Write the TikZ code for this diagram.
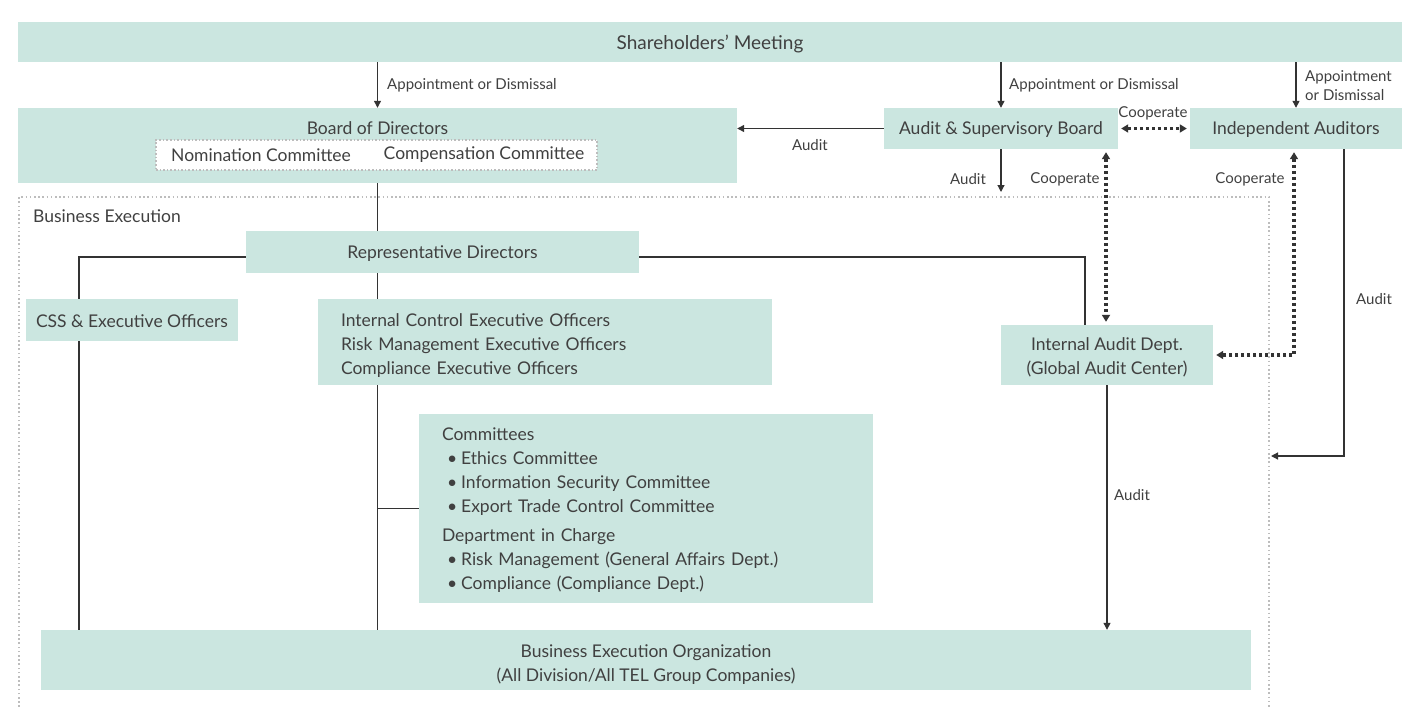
\documentclass[tikz,border=0pt]{standalone}
\usepackage{fontspec}
\setmainfont{Lato}
\usetikzlibrary{arrows.meta,calc}
\definecolor{boxfill}{HTML}{CBE6E0}
\definecolor{txt}{HTML}{404040}
\definecolor{ln}{HTML}{333333}
\definecolor{frm}{HTML}{BDBDBD}
\begin{document}
\begin{tikzpicture}[x=1pt,y=-1pt,
  box/.style={fill=boxfill,draw=none,inner sep=0pt,text=txt,font=\fontsize{17.5}{24}\selectfont,align=center,
    execute at begin node={\rule{0pt}{15pt}}},
  btxt/.style={text=txt,font=\fontsize{17.5}{24}\selectfont,inner sep=0pt},
  lbl/.style={text=txt,font=\fontsize{15}{19}\selectfont,inner sep=1pt},
  conn/.style={draw=ln,line width=1.2pt},
  arr/.style={conn,-{Triangle[length=7pt,width=7pt]}},
  dotarr/.style={draw=ln,line width=3.2pt,dash pattern=on 3pt off 3pt,{Triangle[length=7pt,width=8pt]}-{Triangle[length=7pt,width=8pt]}},
  frame/.style={draw=frm,line width=1.6pt,dash pattern=on 1.6pt off 2.6pt}]
\useasboundingbox (0,0) rectangle (1406,707);

% business execution frame
\draw[frame] (19,707) -- (19,197) -- (1269,197) -- (1269,707);
\node[lbl,anchor=west,font=\fontsize{17.5}{19}\selectfont] (be) at (32,216) {Business Execution};

% boxes
\node[box,minimum width=1384,minimum height=40,font=\fontsize{19}{24}\selectfont,execute at begin node={\rule{0pt}{19pt}}] (sh) at (710,42) {Shareholders’ Meeting};
\node[box,minimum width=719,minimum height=75,execute at begin node={}] (bod) at (377.5,145.5) {};
\node[btxt] (bodt) at (377.5,128) {Board of Directors};
\node[fill=white,draw=frm,line width=1.6pt,dash pattern=on 1.6pt off 2pt,minimum width=441,minimum height=30,inner sep=0pt] (nc) at (376.5,155) {};
\node[btxt] (nom) at (261,155) {Nomination Committee};
\node[btxt] (comp) at (484,155) {Compensation Committee};

\node[box,minimum width=234,minimum height=41] (asb) at (1001,128.5) {Audit \& Supervisory Board};
\node[box,minimum width=212,minimum height=41] (ia) at (1296,128.5) {Independent Auditors};

\node[box,minimum width=393,minimum height=42] (rep) at (442.5,252) {Representative Directors};
\node[box,minimum width=212,minimum height=42] (css) at (132,320) {CSS \& Executive Officers};
\node[box,minimum width=454,minimum height=86,text width=408,align=left,execute at begin node={\rule{0pt}{19pt}}] (icx) at (545,342)
  {Internal Control Executive Officers\\Risk Management Executive Officers\\Compliance Executive Officers};
\node[box,minimum width=454,minimum height=189,text width=408,align=left,execute at begin node={\rule{0pt}{14pt}}] (com) at (646,508.5)
  {Committees\\
   \hspace*{5pt}•\hspace{4pt}Ethics Committee\\
   \hspace*{5pt}•\hspace{4pt}Information Security Committee\\
   \hspace*{5pt}•\hspace{4pt}Export Trade Control Committee\\[5pt]
   Department in Charge\\
   \hspace*{5pt}•\hspace{4pt}Risk Management (General Affairs Dept.)\\
   \hspace*{5pt}•\hspace{4pt}Compliance (Compliance Dept.)};
\node[box,minimum width=212,minimum height=60,execute at begin node={}] (iad) at (1107,355) {\rule{0pt}{17pt}Internal Audit Dept.\\(Global Audit Center)};
\node[box,minimum width=1210,minimum height=60,execute at begin node={}] (beo) at (646,660) {\rule{0pt}{21pt}Business Execution Organization\\(All Division/All TEL Group Companies)};

% coordinates for free ends
\coordinate (ftop) at (1001,192);
\coordinate (fright) at (1271,456);

% appointments
\draw[arr] (bod.north |- sh.south) -- (bod.north);
\node[lbl,anchor=west] (l1) at (386,85) {Appointment or Dismissal};
\draw[arr] (asb.north |- sh.south) -- (asb.north);
\node[lbl,anchor=west] (l2) at (1008,85) {Appointment or Dismissal};
\draw[arr] (ia.north |- sh.south) -- (ia.north);
\node[lbl,anchor=west,align=left] (l3) at (1304,86) {Appointment\\or Dismissal};

% audit board
\draw[arr] (asb.west) -- (bod.east |- asb.west);
\node[lbl] (l4) at (810,145) {Audit};
\draw[dotarr,shorten <=3pt,shorten >=3pt] (asb.east) -- (ia.west);
\node[lbl] (l5) at (1153,113) {Cooperate};
\draw[arr] (asb.south) -- (ftop);
\node[lbl] (l6) at (968,179) {Audit};
\draw[dotarr,shorten <=3pt,shorten >=3pt] ([xshift=-1pt]iad.north |- asb.south) -- ([xshift=-1pt]iad.north);
\node[lbl] (l7) at (1065,179) {Cooperate};
\draw[dotarr,shorten <=3pt,shorten >=3pt] ([xshift=-2pt]ia.south) -- ([xshift=-2pt]ia.south |- iad.east) -- (iad.east);
\node[lbl] (l8) at (1250,179) {Cooperate};
\draw[arr] ([xshift=48pt]ia.south) |- (fright);
\node[lbl] (l9) at (1374,299) {Audit};

% execution tree
\draw[conn] (bod.south) -- (bod.south |- rep.north);
\draw[conn] (bod.south |- rep.south) -- (bod.south |- icx.north);
\draw[conn] (bod.south |- icx.south) -- (bod.south |- beo.north);
\draw[conn] (bod.south |- com.west) -- (com.west);
\draw[conn] ([yshift=-5pt]rep.west) -| ([xshift=-53pt]css.north);
\draw[conn] ([xshift=-53pt]css.south) -- ([xshift=-53pt]css.south |- beo.north);
\draw[conn] ([yshift=-5pt]rep.east) -| ([xshift=-22pt]iad.north);
\draw[arr] (iad.south) -- (iad.south |- beo.north);
\node[lbl] (l10) at (1132,495) {Audit};
\end{tikzpicture}
\end{document}
